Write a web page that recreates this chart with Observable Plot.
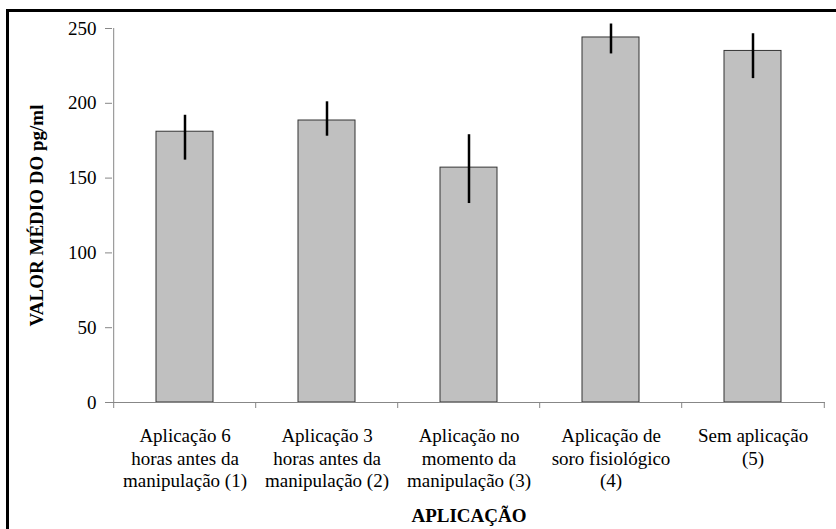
<!DOCTYPE html>
<html>
<head>
<meta charset="utf-8">
<script src="https://cdn.jsdelivr.net/npm/d3@7"></script>
<script src="https://cdn.jsdelivr.net/npm/@observablehq/plot@0.6"></script>
<style>
  html, body { margin: 0; padding: 0; background: #fff; }
  #wrap { position: relative; width: 836px; height: 529px; overflow: hidden; }
  #border { position: absolute; left: 6px; top: 9px; right: -10px; bottom: -10px;
            border-top: 3px solid #000; border-left: 3px solid #000; pointer-events: none; }
  svg, svg text { font-family: "Liberation Serif", "Times New Roman", serif !important; }
</style>
</head>
<body>
<div id="wrap"><div id="border"></div></div>
<script>
const categories = [
  "Aplicação 6\nhoras antes da\nmanipulação (1)",
  "Aplicação 3\nhoras antes da\nmanipulação (2)",
  "Aplicação no\nmomento da\nmanipulação (3)",
  "Aplicação de\nsoro fisiológico\n(4)",
  "Sem aplicação\n(5)"
];
const means = [181, 188.5, 157, 244, 235];
const errLow = [162, 178, 133, 233, 216.5];
const errHigh = [192, 201, 179, 253, 246.5];
const yTicks = [0, 50, 100, 150, 200, 250];
const yTitle = "VALOR MÉDIO DO pg/ml";
const xTitle = "APLICAÇÃO";

const data = categories.map((c, i) => ({cat: c, mean: means[i], lo: errLow[i], hi: errHigh[i]}));

const W = 836, H = 529, mL = 112, mR = 11, mT = 28, mB = 127;
const step = (W - mL - mR) / categories.length;
const axisColor = "#878787";
const font = "Liberation Serif";

const chart = Plot.plot({
  width: W,
  height: H,
  marginLeft: mL,
  marginRight: mR,
  marginTop: mT,
  marginBottom: mB,
  style: {fontFamily: font, fontSize: "19px", color: "#000", background: "transparent"},
  x: {domain: categories, paddingInner: 0.6, paddingOuter: 0.3, label: null},
  y: {domain: [0, 250], label: null},
  marks: [
    Plot.barY(data, {x: "cat", y: "mean", fill: "#c0c0c0", stroke: "#333", strokeWidth: 1}),
    Plot.ruleX(data, {x: "cat", y1: "lo", y2: "hi", stroke: "#000", strokeWidth: 2.5}),
    // x axis line
    Plot.ruleY([0], {stroke: axisColor, strokeWidth: 1}),
    // y axis line
    Plot.ruleX([categories[0]], {y1: 0, y2: 250, dx: -step / 2, stroke: axisColor, strokeWidth: 1}),
    // category boundary ticks
    Plot.ruleX(categories, {y1: 0, y2: 0, dx: -step / 2, insetBottom: -6, stroke: axisColor}),
    Plot.ruleX([categories[categories.length - 1]], {y1: 0, y2: 0, dx: step / 2, insetBottom: -6, stroke: axisColor}),
    Plot.axisY({ticks: yTicks, tickSize: 7, tickPadding: 9, stroke: axisColor, fontSize: 19, fontFamily: font, label: null}),
    Plot.axisX({tickSize: 0, tickPadding: 24, fontSize: 19, fontFamily: font, lineHeight: 1.18, label: null}),
    Plot.text([yTitle], {frameAnchor: "left", textAnchor: "middle", rotate: -90, dx: -76, fontWeight: "bold", fontSize: 19, fontFamily: font, fill: "#000"}),
    Plot.text([xTitle], {frameAnchor: "bottom", textAnchor: "middle", dy: 119, fontWeight: "bold", fontSize: 19, fontFamily: font, fill: "#000"})
  ]
});
document.getElementById("wrap").prepend(chart);
</script>
</body>
</html>
